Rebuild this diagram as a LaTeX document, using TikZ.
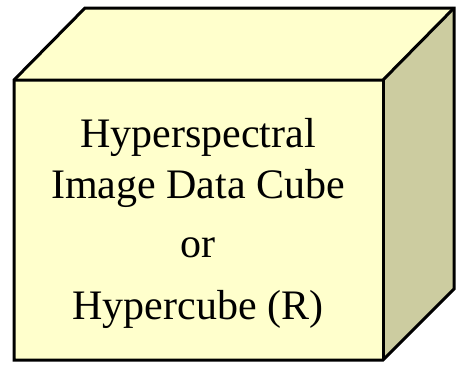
\documentclass[tikz,border=0pt]{standalone}
\usepackage{fontspec}
\setmainfont{Liberation Serif}
\definecolor{facelight}{HTML}{FFFFCC}
\definecolor{facedark}{HTML}{CCCCA0}
\begin{document}
\begin{tikzpicture}[x=1pt,y=-1pt,
  face/.style={draw=black,line width=3pt,line join=miter},
  label/.style={anchor=base,inner sep=0pt,font=\fontsize{42}{50}\selectfont}]
\useasboundingbox (0,0) rectangle (457,365);
\coordinate (fa) at (14,80);
\coordinate (fb) at (383,80);
\coordinate (fc) at (383,360);
\coordinate (fd) at (14,360);
\coordinate (ta) at (85,8);
\coordinate (tb) at (454,8);
\coordinate (tc) at (454,289);
\fill[facelight] (fa) -- (ta) -- (tb) -- (fb) -- cycle;
\fill[facedark] (fb) -- (tb) -- (tc) -- (fc) -- cycle;
\fill[facelight] (fa) rectangle (fc);
\draw[face] (fa) -- (ta) -- (tb) -- (tc) -- (fc) -- (fd) -- cycle;
\draw[face] (fa) -- (fb) -- (tb);
\draw[face] (fb) -- (fc);
\node[label] (l1) at (198,147) {Hyperspectral};
\node[label] (l2) at (198,198) {Image Data Cube};
\node[label] (l3) at (198,257) {or};
\node[label] (l4) at (198,319) {Hypercube (R)};
\end{tikzpicture}
\end{document}
